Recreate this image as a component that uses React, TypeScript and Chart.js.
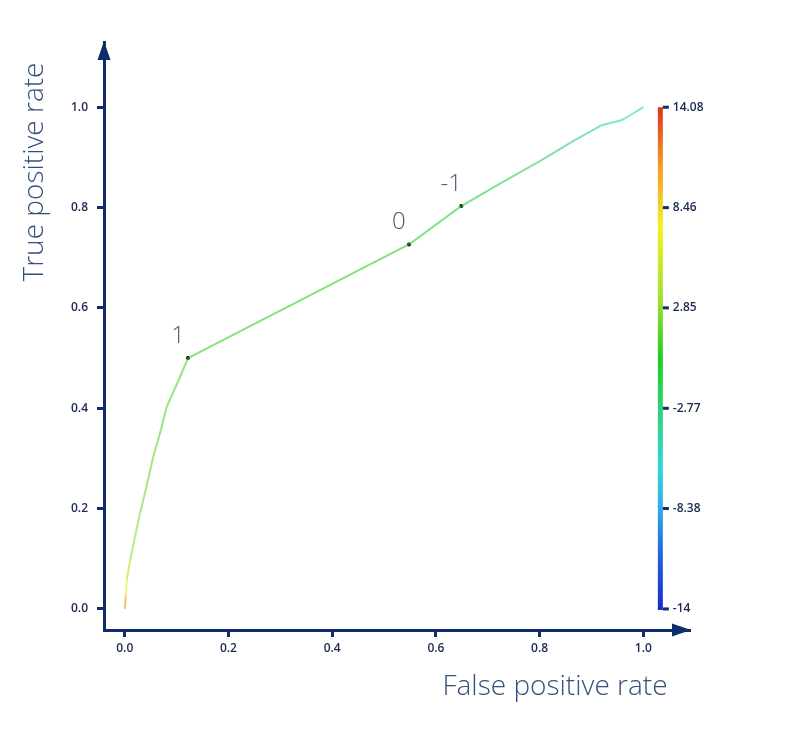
import { useEffect, useRef } from "react";
import { Chart, registerables } from "chart.js";

Chart.register(...registerables);

// ---- data ----
const fprValues = [0, 0.002, 0.004, 0.0106, 0.02, 0.0295, 0.042, 0.055, 0.068, 0.081, 0.104, 0.122, 0.548, 0.649, 0.726, 0.803, 0.867, 0.919, 0.958, 0.981, 1.0];
const tprValues = [0, 0.025, 0.058, 0.098, 0.145, 0.191, 0.244, 0.304, 0.35, 0.403, 0.456, 0.5, 0.7265, 0.803, 0.849, 0.894, 0.934, 0.964, 0.974, 0.988, 1.0];
const thresholdValues = [14.08, 8, 5, 3.2, 2.6, 2.2, 1.9, 1.7, 1.5, 1.3, 1.15, 1, 0, -1, -1.6, -2.2, -2.8, -3.4, -4.2, -5.5, -8];
const markedThresholds = [1, 0, -1];
const markedLabels = ["1", "0", "-1"];
const xTickValues = [0, 0.2, 0.4, 0.6, 0.8, 1.0];
const yTickValues = [0, 0.2, 0.4, 0.6, 0.8, 1.0];
const colorbarTicks = [14.08, 8.46, 2.85, -2.77, -8.38, -14];
const colorMin = -14;
const colorMax = 14.08;

// ---- styles ----
const NAVY = "#0f2d6b";
const TICK_TEXT = "#1b2a52";
const TITLE_TEXT = "#35507a";
const cmapStops = [0, 0.1, 0.2, 0.28, 0.4, 0.5, 0.6, 0.76, 0.88, 1];
const cmapColors: [number, number, number][] = [
  [26, 42, 210],
  [32, 96, 224],
  [48, 170, 232],
  [48, 214, 220],
  [48, 210, 120],
  [32, 204, 32],
  [150, 220, 48],
  [246, 240, 32],
  [240, 160, 32],
  [224, 52, 28],
];

function cmap(f: number): [number, number, number] {
  const t = Math.max(0, Math.min(1, f));
  for (let i = 0; i < cmapStops.length - 1; i++) {
    if (t <= cmapStops[i + 1]) {
      const a = cmapStops[i], b = cmapStops[i + 1];
      const u = (t - a) / (b - a);
      const c0 = cmapColors[i], c1 = cmapColors[i + 1];
      return [0, 1, 2].map((k) => Math.round(c0[k] + (c1[k] - c0[k]) * u)) as [number, number, number];
    }
  }
  return cmapColors[cmapColors.length - 1];
}
const frac = (v: number) => (v - colorMin) / (colorMax - colorMin);

export default function App() {
  const ref = useRef<HTMLCanvasElement>(null);
  useEffect(() => {
    const curve = fprValues.map((x, i) => ({ x, y: tprValues[i] }));
    const markedIdx = markedThresholds.map((t) => thresholdValues.indexOf(t));
    const markers = markedIdx.map((i) => ({ x: fprValues[i], y: tprValues[i] }));

    const decor = {
      id: "decor",
      afterDraw(chart: any) {
        const { ctx, chartArea, scales } = chart;
        const xs = scales.x, ys = scales.y;
        ctx.save();
        // arrows
        ctx.fillStyle = NAVY;
        ctx.beginPath();
        ctx.moveTo(chartArea.left, chartArea.top - 1);
        ctx.lineTo(chartArea.left - 6.5, chartArea.top + 18);
        ctx.lineTo(chartArea.left + 6.5, chartArea.top + 18);
        ctx.closePath();
        ctx.fill();
        ctx.beginPath();
        ctx.moveTo(chartArea.right + 1, chartArea.bottom);
        ctx.lineTo(chartArea.right - 18, chartArea.bottom - 6.5);
        ctx.lineTo(chartArea.right - 18, chartArea.bottom + 6.5);
        ctx.closePath();
        ctx.fill();

        // colorbar
        const bx = xs.getPixelForValue(1.028);
        const bw = 5;
        const yTop = ys.getPixelForValue(1);
        const yBot = ys.getPixelForValue(0);
        const grad = ctx.createLinearGradient(0, yBot, 0, yTop);
        cmapStops.forEach((s, i) => {
          const c = cmapColors[i];
          grad.addColorStop(s, `rgb(${c[0]},${c[1]},${c[2]})`);
        });
        ctx.fillStyle = grad;
        ctx.fillRect(bx, yTop, bw, yBot - yTop + 1);
        ctx.font = "600 12px 'Open Sans'";
        ctx.textAlign = "left";
        ctx.textBaseline = "middle";
        colorbarTicks.forEach((v) => {
          const py = ys.getPixelForValue(frac(v));
          ctx.fillStyle = NAVY;
          ctx.fillRect(bx + bw, py - 1.5, 6, 3);
          ctx.fillStyle = TICK_TEXT;
          ctx.fillText(String(v), bx + bw + 10, py);
        });

        // point labels
        ctx.fillStyle = "#4a5a74";
        ctx.font = "300 24px 'Open Sans'";
        ctx.textAlign = "center";
        ctx.textBaseline = "middle";
        markers.forEach((m, i) => {
          const px = xs.getPixelForValue(m.x);
          const py = ys.getPixelForValue(m.y);
          ctx.fillText(markedLabels[i], px - 10, py - 22);
        });

        // axis titles
        ctx.fillStyle = TITLE_TEXT;
        ctx.font = "300 28px 'Open Sans'";
        ctx.save();
        ctx.translate(35, 172);
        ctx.rotate(-Math.PI / 2);
        ctx.fillText("True positive rate", 0, 0);
        ctx.restore();
        ctx.fillText("False positive rate", 555, 687);
        ctx.restore();
      },
    };

    const chart = new Chart(ref.current!, {
      type: "line",
      data: {
        datasets: [
          {
            data: curve,
            borderWidth: 2,
            pointRadius: 0,
            tension: 0,
            fill: false,
            segment: {
              borderColor: (c: any) => {
                const t = (thresholdValues[c.p0DataIndex] + thresholdValues[c.p1DataIndex]) / 2;
                const col = cmap(frac(t));
                return `rgba(${col[0]},${col[1]},${col[2]},0.6)`;
              },
            },
          } as any,
          {
            data: markers,
            showLine: false,
            pointRadius: 2,
            pointBackgroundColor: "#000",
            pointBorderWidth: 0,
          } as any,
        ],
      },
      options: {
        animation: false,
        responsive: true,
        maintainAspectRatio: false,
        layout: { padding: { top: 42, right: 110, left: 0, bottom: 0 } },
        plugins: { legend: { display: false }, tooltip: { enabled: false } },
        scales: {
          x: {
            type: "linear",
            min: -0.04,
            max: 1.09,
            afterFit: (s: any) => { s.height = 102; },
            afterBuildTicks: (s: any) => { s.ticks = xTickValues.map((v) => ({ value: v })); },
            border: { color: NAVY, width: 3 },
            grid: { drawOnChartArea: false, drawTicks: true, tickLength: 7, tickWidth: 3, tickColor: NAVY, color: NAVY },
            ticks: {
              padding: 4,
              color: TICK_TEXT,
              font: { family: "'Open Sans'", size: 12, weight: "600" },
              callback: (v: any) => Number(v).toFixed(1),
            },
          },
          y: {
            type: "linear",
            min: -0.042,
            max: 1.13,
            afterFit: (s: any) => { s.width = 104; },
            afterBuildTicks: (s: any) => { s.ticks = yTickValues.map((v) => ({ value: v })); },
            border: { color: NAVY, width: 3 },
            grid: { drawOnChartArea: false, drawTicks: true, tickLength: 7, tickWidth: 3, tickColor: NAVY, color: NAVY },
            ticks: {
              padding: 9,
              color: TICK_TEXT,
              font: { family: "'Open Sans'", size: 12, weight: "600" },
              callback: (v: any) => Number(v).toFixed(1),
            },
          },
        },
      } as any,
      plugins: [decor],
    });
    return () => chart.destroy();
  }, []);
  return (
    <div style={{ position: "fixed", left: 0, top: 0, width: 800, height: 732, background: "#fff" }}>
      <canvas ref={ref} />
    </div>
  );
}
